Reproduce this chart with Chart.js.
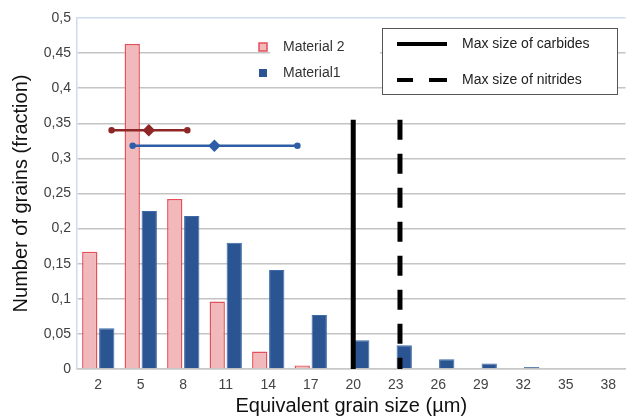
<!DOCTYPE html>
<html>
<head>
<meta charset="utf-8">
<script src="https://cdn.jsdelivr.net/npm/chart.js@4"></script>
<style>
  html, body { margin: 0; padding: 0; background: #fff; }
  #wrap { width: 632px; height: 418px; }
</style>
</head>
<body>
<div id="wrap"><canvas id="grainChart" width="632" height="418"></canvas></div>
<script>
// grain size classes (µm)
const sizes = [2, 5, 8, 11, 14, 17, 20, 23, 26, 29, 32, 35, 38];
const material2 = [0.167, 0.463, 0.242, 0.096, 0.025, 0.005, 0.001, 0, 0, 0, 0, 0, 0];
const material1 = [0.058, 0.225, 0.218, 0.180, 0.141, 0.077, 0.041, 0.034, 0.014, 0.008, 0.003, 0.001, 0.001];

// mean +/- spread markers (µm, fraction)
const spread2 = [[2.94, 0.34], [5.57, 0.34], [8.29, 0.34]];
const spread1 = [[4.43, 0.318], [10.2, 0.318], [16.06, 0.318]];

// max inclusion sizes
const carbideMax = 20;
const nitrideMax = 23.3;
const limitTop = 0.355;

const yTicks = [0, 0.05, 0.1, 0.15, 0.2, 0.25, 0.3, 0.35, 0.4, 0.45, 0.5];

const pink = "#f2b9bc";
const pinkEdge = "#e4505a";
const blue = "#2b5592";
const blueEdge = "#3d6aa8";
const font = "'Liberation Sans', Arial, sans-serif";

const toXY = arr => arr.map(p => ({ x: p[0], y: p[1] }));
const pair = vals => sizes.map((s, i) => ({ x: s, y: vals[i] }));

const legendPlugin = {
  id: "legends",
  afterDraw(chart) {
    const ctx = chart.ctx;
    ctx.save();
    // series legend
    ctx.fillStyle = "#fff";
    ctx.fillRect(270, 37, 110, 47);
    ctx.fillStyle = pink;
    ctx.strokeStyle = pinkEdge;
    ctx.lineWidth = 1.5;
    ctx.fillRect(259, 43, 8, 8);
    ctx.strokeRect(259, 43, 8, 8);
    ctx.fillStyle = blue;
    ctx.fillRect(259, 69, 8, 8);
    ctx.font = "14px " + font;
    ctx.fillStyle = "#333";
    ctx.textBaseline = "middle";
    ctx.fillText("Material 2", 283, 47);
    ctx.fillText("Material1", 283, 73);

    // limits legend
    ctx.fillStyle = "#fff";
    ctx.fillRect(382, 28, 235, 66);
    ctx.strokeStyle = "#555";
    ctx.lineWidth = 1;
    ctx.strokeRect(382.5, 28.5, 235, 66);
    ctx.strokeStyle = "#000";
    ctx.lineWidth = 4;
    ctx.beginPath();
    ctx.moveTo(397, 44);
    ctx.lineTo(447, 44);
    ctx.stroke();
    ctx.beginPath();
    ctx.moveTo(397, 80);
    ctx.lineTo(413, 80);
    ctx.moveTo(429, 80);
    ctx.lineTo(447, 80);
    ctx.stroke();
    ctx.fillStyle = "#222";
    ctx.fillText("Max size of carbides", 462, 44);
    ctx.fillText("Max size of nitrides", 462, 80);
    ctx.restore();
  }
};

const ctx = document.getElementById("grainChart").getContext("2d");
const grainChart = new Chart(ctx, {
  type: "bar",
  data: {
    datasets: [
      {
        label: "Material 2",
        data: pair(material2),
        backgroundColor: pink,
        borderColor: pinkEdge,
        borderWidth: 1.5,
        categoryPercentage: 0.8,
        barPercentage: 0.9,
        order: 3
      },
      {
        label: "Material1",
        data: pair(material1),
        backgroundColor: blue,
        borderColor: blueEdge,
        borderWidth: 1,
        categoryPercentage: 0.8,
        barPercentage: 0.9,
        order: 3
      },
      {
        type: "line",
        label: "spread 2",
        data: toXY(spread2),
        borderColor: "#8f2727",
        backgroundColor: "#8f2727",
        borderWidth: 2.5,
        pointStyle: ["circle", "rectRot", "circle"],
        pointRadius: [2, 4.5, 2],
        order: 1
      },
      {
        type: "line",
        label: "spread 1",
        data: toXY(spread1),
        borderColor: "#2f5ea6",
        backgroundColor: "#2f5ea6",
        borderWidth: 2.5,
        pointStyle: ["circle", "rectRot", "circle"],
        pointRadius: [2, 4.5, 2],
        order: 1
      },
      {
        type: "line",
        label: "Max size of carbides",
        data: [{ x: carbideMax, y: limitTop }, { x: carbideMax, y: 0 }],
        borderColor: "#000",
        borderWidth: 5,
        pointRadius: 0,
        order: 0
      },
      {
        type: "line",
        label: "Max size of nitrides",
        data: [{ x: nitrideMax, y: limitTop }, { x: nitrideMax, y: 0 }],
        borderColor: "#000",
        borderWidth: 5,
        borderDash: [20, 14],
        borderCapStyle: "butt",
        pointRadius: 0,
        order: 0
      }
    ]
  },
  options: {
    responsive: false,
    animation: false,
    layout: { padding: { top: 18, right: 0, bottom: 0, left: 0 } },
    plugins: {
      legend: { display: false },
      tooltip: { enabled: false }
    },
    scales: {
      x: {
        type: "linear",
        offset: false,
        min: 0.5,
        max: 39.22,
        afterBuildTicks(scale) { scale.ticks = sizes.map(v => ({ value: v })); },
        grid: { display: false },
        border: { color: "#c8c8c8", width: 1.5 },
        ticks: {
          color: "#444",
          font: { family: font, size: 14 },
          padding: 0,
          maxRotation: 0,
          autoSkip: false
        },
        title: {
          display: true,
          text: "Equivalent grain size (µm)",
          color: "#111",
          font: { family: font, size: 20 },
          padding: { top: 0, bottom: 0 }
        },
        afterFit(scale) { scale.height = 49; }
      },
      y: {
        min: 0,
        max: 0.5,
        afterBuildTicks(scale) { scale.ticks = yTicks.map(v => ({ value: v })); },
        grid: {
          color: c => (c.tick && c.tick.value === 0.5 ? "#cddbef" : "#c4c4c4"),
          lineWidth: 1.5,
          drawTicks: false
        },
        border: { color: "#cddbef", width: 1.5 },
        ticks: {
          color: "#404040",
          padding: 6,
          font: { family: font, size: 14 },
          callback: v => String(Math.round(v * 100) / 100).replace(".", ",")
        },
        title: {
          display: true,
          text: "Number of grains (fraction)",
          color: "#111",
          font: { family: font, size: 20 },
          padding: { top: 9, bottom: 0 }
        },
        afterFit(scale) { scale.width = 77; }
      }
    }
  },
  plugins: [legendPlugin]
});
</script>
</body>
</html>
